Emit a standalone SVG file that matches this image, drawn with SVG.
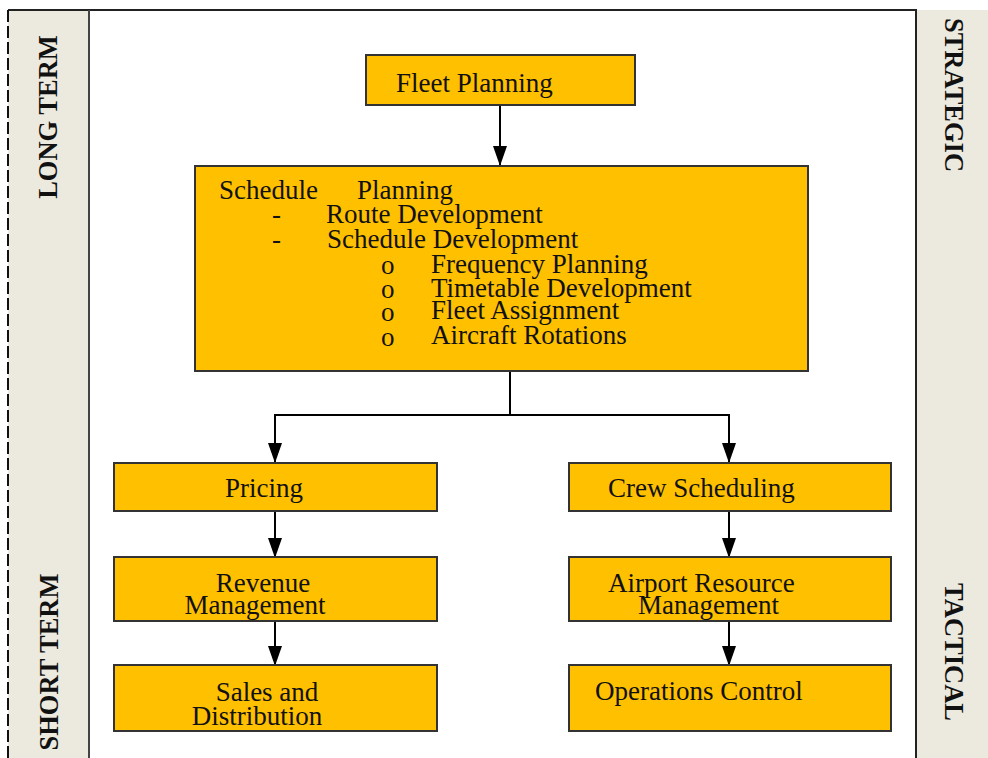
<svg xmlns="http://www.w3.org/2000/svg" width="988" height="758" viewBox="0 0 988 758">
<defs>
<marker id="ah" markerUnits="userSpaceOnUse" markerWidth="20" markerHeight="14" refX="19" refY="7" orient="auto">
<path d="M0,0 L20,7 L0,14 Z" fill="#000"/>
</marker>
<style>
.box{fill:#FFC000;stroke:#333;stroke-width:2}
.t{font-family:"Liberation Serif","Times New Roman",serif;font-size:27px;fill:#111}
.side{font-family:"Liberation Serif","Times New Roman",serif;font-size:26.5px;font-weight:bold;fill:#111}
.c{stroke:#000;stroke-width:2;fill:none}
</style>
</defs>
<rect width="988" height="758" fill="#fff"/>
<g id="panels">
<rect x="8" y="10" width="81" height="748" fill="#ECE9DF"/>
<rect x="916" y="10" width="72" height="748" fill="#ECE9DF"/>
<line x1="8" y1="10" x2="917" y2="10" stroke="#222" stroke-width="2"/>
<line x1="8" y1="10" x2="8" y2="758" stroke="#111" stroke-width="2" stroke-dasharray="12,4"/>
<line x1="89" y1="10" x2="89" y2="758" stroke="#444" stroke-width="2"/>
<line x1="916" y1="10" x2="916" y2="758" stroke="#222" stroke-width="2"/>
<text class="side" text-anchor="middle" transform="translate(57,117) rotate(-90)">LONG TERM</text>
<text class="side" text-anchor="middle" transform="translate(58,662) rotate(-90)">SHORT TERM</text>
<text class="side" text-anchor="middle" transform="translate(945,95) rotate(90)">STRATEGIC</text>
<text class="side" text-anchor="middle" transform="translate(945,652) rotate(90)">TACTICAL</text>
</g>
<g id="connectors">
<line class="c" x1="500" y1="105" x2="500" y2="165" marker-end="url(#ah)"/>
<polyline class="c" points="510,371 510,415 275,415 275,462" marker-end="url(#ah)"/>
<polyline class="c" points="510,415 729,415 729,462" marker-end="url(#ah)"/>
<line class="c" x1="275" y1="511" x2="275" y2="557" marker-end="url(#ah)"/>
<line class="c" x1="275" y1="621" x2="275" y2="665" marker-end="url(#ah)"/>
<line class="c" x1="729" y1="511" x2="729" y2="557" marker-end="url(#ah)"/>
<line class="c" x1="729" y1="621" x2="729" y2="665" marker-end="url(#ah)"/>
</g>
<g id="fleet-planning">
<rect class="box" x="366" y="55" width="269" height="50"/>
<text class="t" x="396" y="92">Fleet Planning</text>
</g>
<g id="schedule-planning">
<rect class="box" x="195" y="166" width="613" height="205"/>
<text class="t" x="219" y="199">Schedule</text>
<text class="t" x="357" y="199">Planning</text>
<text class="t" x="272" y="223">-</text>
<text class="t" x="326" y="223">Route Development</text>
<text class="t" x="272" y="248">-</text>
<text class="t" x="327" y="248">Schedule Development</text>
<text class="t" x="381" y="274">o</text>
<text class="t" x="431" y="273">Frequency Planning</text>
<text class="t" x="381" y="298">o</text>
<text class="t" x="431" y="297">Timetable Development</text>
<text class="t" x="381" y="321">o</text>
<text class="t" x="431" y="319">Fleet Assignment</text>
<text class="t" x="381" y="346">o</text>
<text class="t" x="431" y="344">Aircraft Rotations</text>
</g>
<g id="pricing">
<rect class="box" x="114" y="463" width="323" height="48"/>
<text class="t" x="264" y="497" text-anchor="middle">Pricing</text>
</g>
<g id="revenue-management">
<rect class="box" x="114" y="557" width="323" height="64"/>
<text class="t" x="263" y="592" text-anchor="middle">Revenue</text>
<text class="t" x="255" y="614" text-anchor="middle">Management</text>
</g>
<g id="sales-distribution">
<rect class="box" x="114" y="665" width="323" height="66"/>
<text class="t" x="267" y="701" text-anchor="middle">Sales and</text>
<text class="t" x="257" y="725" text-anchor="middle">Distribution</text>
</g>
<g id="crew-scheduling">
<rect class="box" x="569" y="463" width="322" height="48"/>
<text class="t" x="608" y="497">Crew Scheduling</text>
</g>
<g id="airport-resource-management">
<rect class="box" x="569" y="557" width="322" height="64"/>
<text class="t" x="608" y="592">Airport Resource</text>
<text class="t" x="638" y="614">Management</text>
</g>
<g id="operations-control">
<rect class="box" x="569" y="665" width="322" height="66"/>
<text class="t" x="595" y="700">Operations Control</text>
</g>
</svg>
